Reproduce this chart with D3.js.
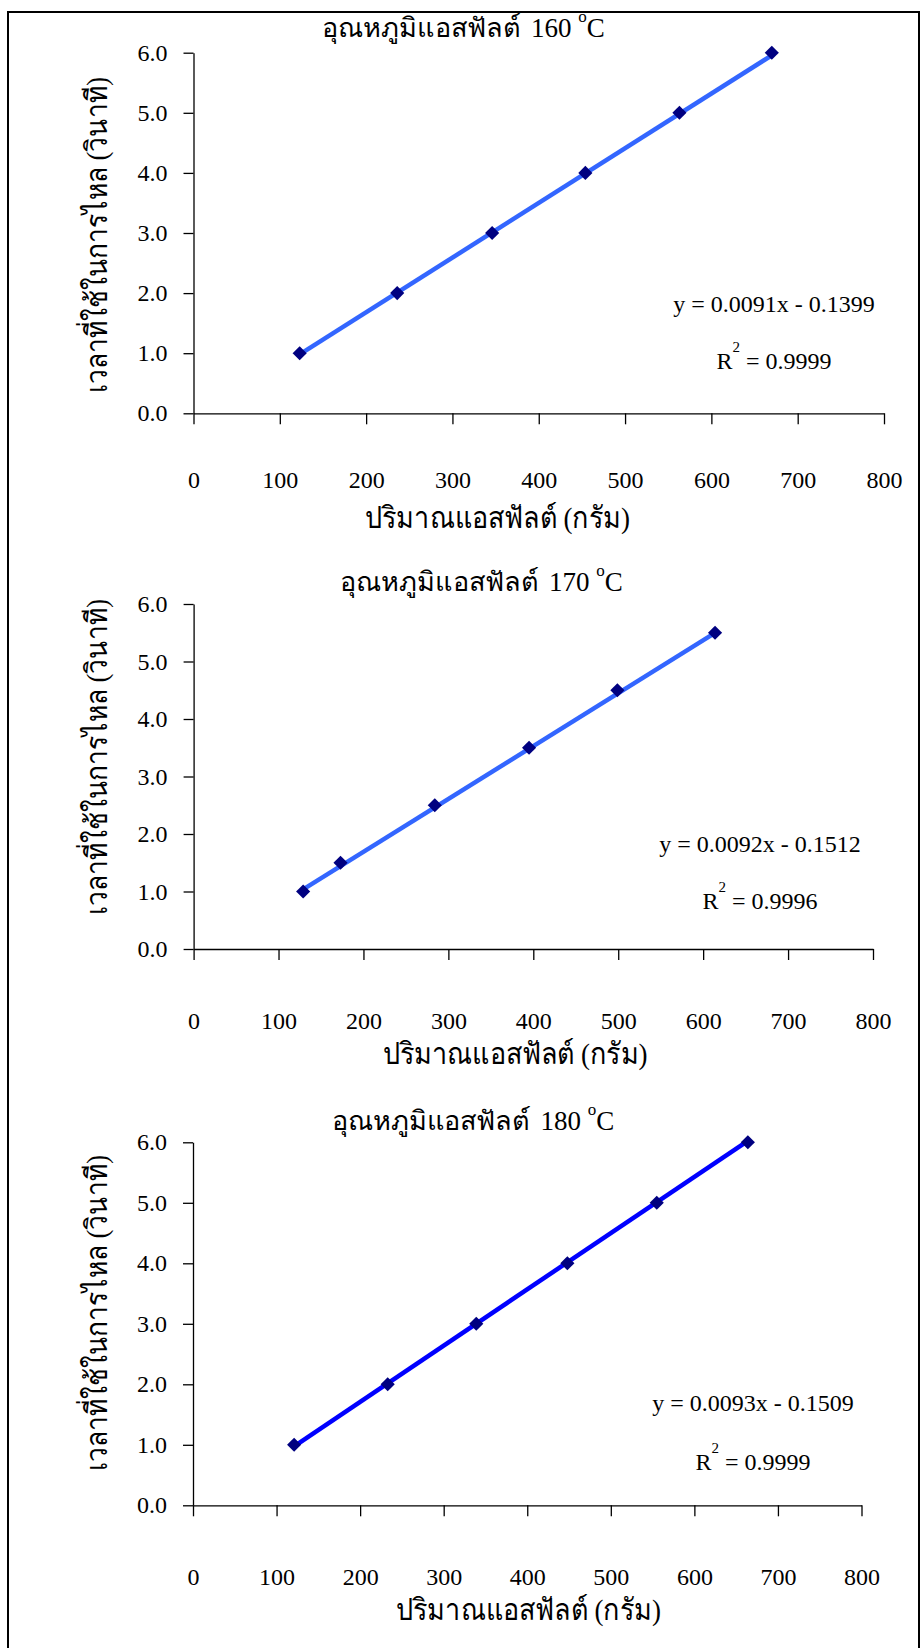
<!DOCTYPE html>
<html>
<head>
<meta charset="utf-8">
<script src="https://cdn.jsdelivr.net/npm/d3@7"></script>
<style>
  html, body { margin: 0; padding: 0; background: #fff; }
  text { font-family: 'Liberation Serif', 'Times New Roman', serif; fill: #000; }
</style>
</head>
<body>
<div id="chart"></div>
<script>
'use strict'

// chart values
var temperatures = ['160', '170', '180']
var xTicks = [0, 100, 200, 300, 400, 500, 600, 700, 800]
var yTicks = [0, 1, 2, 3, 4, 5, 6]

var amount160 = [123, 236, 346, 454, 563, 670]
var time160 = [1, 2, 3, 4, 5, 6]
var amount170 = [129, 173, 284, 395, 499, 614]
var time170 = [1, 1.5, 2.5, 3.5, 4.5, 5.5]
var amount180 = [121, 233, 339, 448, 555, 664]
var time180 = [1, 2, 3, 4, 5, 6]

var slopes = [0.0091, 0.0092, 0.0093]
var intercepts = [-0.1399, -0.1512, -0.1509]
var equations = ['y = 0.0091x - 0.1399', 'y = 0.0092x - 0.1512', 'y = 0.0093x - 0.1509']
var rSquared = ['0.9999', '0.9996', '0.9999']

var titleText = 'อุณหภูมิแอสฟัลต์'
var xTitle = 'ปริมาณแอสฟัลต์ (กรัม)'
var yTitle = 'เวลาที่ใช้ในการไหล (วินาที)'

var amounts = [amount160, amount170, amount180]
var times = [time160, time170, time180]
var lineColors = ['#3366ff', '#3366ff', '#0000ff']

// where each panel sits on the page
var panels = [
  { x0: 193.5, x1: 884, yTop: 52.7, yBot: 413.3, titleLeft: 322, titleBase: 37, labelPad: 47,
    xTitleLeft: 365, yTitleMid: 235, eqX: 774, eqY: 312, r2Y: 369 },
  { x0: 193.6, x1: 873, yTop: 604, yBot: 949, titleLeft: 340, titleBase: 591, labelPad: 52,
    xTitleLeft: 382.5, yTitleMid: 757, eqX: 760, eqY: 852, r2Y: 909 },
  { x0: 193, x1: 861.5, yTop: 1142.3, yBot: 1505.3, titleLeft: 331.5, titleBase: 1130, labelPad: 52,
    xTitleLeft: 396, yTitleMid: 1313, eqX: 753, eqY: 1411, r2Y: 1470 }
]

var width = 920
var height = 1648

var svg = d3.select('#chart')
  .append('svg')
  .attr('width', width)
  .attr('height', height)

// outer frame
svg.append('rect')
  .attr('x', 8)
  .attr('y', 12)
  .attr('width', 911)
  .attr('height', height)
  .attr('fill', 'none')
  .attr('stroke', '#000')
  .attr('stroke-width', 2)

panels.forEach(function(p, i) {
  var x = d3.scaleLinear().domain([0, 800]).range([p.x0, p.x1])
  var y = d3.scaleLinear().domain([0, 6]).range([p.yBot, p.yTop])

  var g = svg.append('g')

  // x axis
  var xAxis = g.append('g')
    .attr('transform', 'translate(0,' + p.yBot + ')')
    .call(d3.axisBottom(x).tickValues(xTicks).tickSize(11).tickSizeOuter(0).tickPadding(p.labelPad))
  xAxis.select('.domain').attr('stroke', '#000').attr('stroke-width', 1.3)
  xAxis.selectAll('.tick line').attr('stroke', '#000').attr('stroke-width', 1.3)
  xAxis.selectAll('text')
    .attr('font-family', 'Liberation Serif')
    .attr('font-size', '24px')
    .attr('fill', '#000')

  // y axis
  var yAxis = g.append('g')
    .attr('transform', 'translate(' + p.x0 + ',0)')
    .call(d3.axisLeft(y).tickValues(yTicks).tickFormat(d3.format('.1f')).tickSize(10).tickSizeOuter(0).tickPadding(16))
  yAxis.select('.domain').attr('stroke', '#000').attr('stroke-width', 1.3)
  yAxis.selectAll('.tick line').attr('stroke', '#000').attr('stroke-width', 1.3)
  yAxis.selectAll('text')
    .attr('font-family', 'Liberation Serif')
    .attr('font-size', '24px')
    .attr('fill', '#000')

  // title
  g.append('text')
    .attr('x', p.titleLeft)
    .attr('y', p.titleBase)
    .attr('font-size', '27px')
    .attr('textLength', 199)
    .attr('lengthAdjust', 'spacingAndGlyphs')
    .text(titleText)
  var t = g.append('text')
    .attr('x', p.titleLeft + 209)
    .attr('y', p.titleBase)
    .attr('font-size', '27px')
  t.append('tspan').text(temperatures[i] + ' ')
  t.append('tspan').attr('dy', -15).attr('font-size', '17px').text('o')
  t.append('tspan').attr('dy', 15).text('C')

  // axis titles
  g.append('text')
    .attr('x', p.xTitleLeft)
    .attr('y', p.yBot + 115)
    .attr('font-size', '30px')
    .attr('textLength', 265)
    .attr('lengthAdjust', 'spacingAndGlyphs')
    .text(xTitle)

  g.append('text')
    .attr('transform', 'translate(107,' + (p.yTitleMid + 158) + ') rotate(-90)')
    .attr('font-size', '30px')
    .attr('textLength', 316)
    .attr('lengthAdjust', 'spacingAndGlyphs')
    .text(yTitle)

  // trend line over the data range
  var xs = amounts[i]
  var ends = d3.extent(xs)
  g.append('line')
    .attr('x1', x(ends[0]))
    .attr('y1', y(slopes[i] * ends[0] + intercepts[i]))
    .attr('x2', x(ends[1]))
    .attr('y2', y(slopes[i] * ends[1] + intercepts[i]))
    .attr('stroke', lineColors[i])
    .attr('stroke-width', 4.5)

  // markers
  g.selectAll('.pt')
    .data(xs)
    .enter()
    .append('path')
    .attr('class', 'pt')
    .attr('d', d3.symbol().type(d3.symbolSquare).size(100))
    .attr('transform', function(d, j) {
      return 'translate(' + x(d) + ',' + y(times[i][j]) + ') rotate(45)'
    })
    .attr('fill', '#000080')

  // regression labels
  g.append('text')
    .attr('x', p.eqX)
    .attr('y', p.eqY)
    .attr('text-anchor', 'middle')
    .attr('font-size', '24px')
    .text(equations[i])

  var r = g.append('text')
    .attr('x', p.eqX)
    .attr('y', p.r2Y)
    .attr('text-anchor', 'middle')
    .attr('font-size', '24px')
  r.append('tspan').text('R')
  r.append('tspan').attr('dy', -17).attr('font-size', '15px').text('2')
  r.append('tspan').attr('dy', 17).text(' = ' + rSquared[i])
})
</script>
</body>
</html>
